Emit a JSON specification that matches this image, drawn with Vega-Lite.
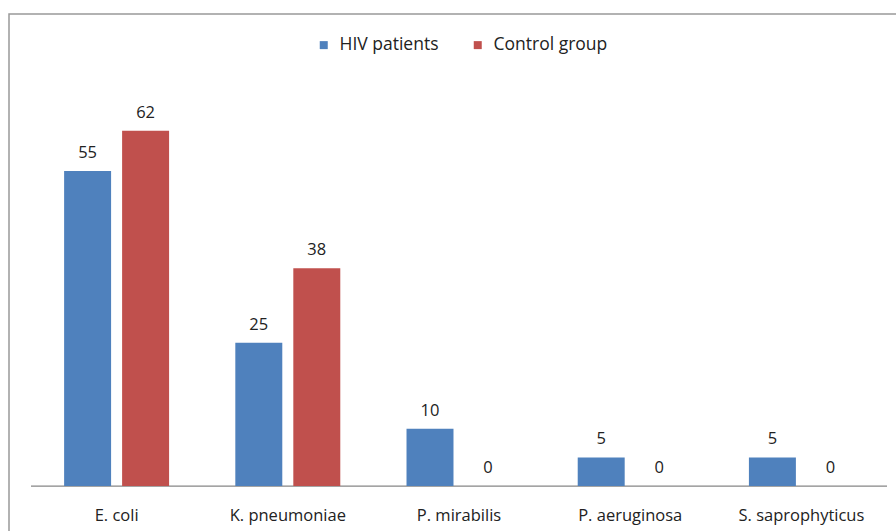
{
  "$schema": "https://vega.github.io/schema/vega-lite/v6.json",
  "autosize": "none",
  "width": 900,
  "height": 526,
  "padding": {"left": 9, "top": 14, "right": -13, "bottom": -9},
  "background": "white",
  "config": {
    "view": {"stroke": "#999999", "strokeWidth": 1.5},
    "font": "Open Sans",
    "text": {"font": "Open Sans"}
  },
  "layer": [
    {
      "data": {"values": [{"a": "E. coli", "b": "S. saprophyticus"}]},
      "mark": {"type": "rule", "color": "#868686", "strokeWidth": 1.2},
      "encoding": {
        "x": {"field": "a", "type": "nominal", "bandPosition": 0},
        "x2": {"field": "b", "bandPosition": 1},
        "y": {"datum": 0, "type": "quantitative"}
      }
    },
    {
      "data": {"name": "main", "values": [
        {"org": "E. coli", "group": "HIV patients", "v": 55},
        {"org": "E. coli", "group": "Control group", "v": 62},
        {"org": "K. pneumoniae", "group": "HIV patients", "v": 25},
        {"org": "K. pneumoniae", "group": "Control group", "v": 38},
        {"org": "P. mirabilis", "group": "HIV patients", "v": 10},
        {"org": "P. mirabilis", "group": "Control group", "v": 0},
        {"org": "P. aeruginosa", "group": "HIV patients", "v": 5},
        {"org": "P. aeruginosa", "group": "Control group", "v": 0},
        {"org": "S. saprophyticus", "group": "HIV patients", "v": 5},
        {"org": "S. saprophyticus", "group": "Control group", "v": 0}
      ]},
      "layer": [
        {
          "mark": {"type": "bar"},
          "encoding": {
            "color": {
              "field": "group", "type": "nominal",
              "scale": {"domain": ["HIV patients", "Control group"], "range": ["#4F81BD", "#C0504D"]},
              "legend": {
                "title": null, "orient": "none", "direction": "horizontal",
                "legendX": 306, "legendY": 22,
                "symbolType": "square", "symbolSize": 64, "symbolStrokeWidth": 0,
                "labelFont": "Open Sans", "labelFontSize": 17.5, "labelColor": "#222222",
                "labelOffset": 7, "columnPadding": 30
              }
            }
          }
        },
        {
          "mark": {"type": "text", "baseline": "alphabetic", "dy": -13, "fontSize": 16.5, "color": "#222222", "font": "Open Sans"},
          "encoding": {"text": {"field": "v", "type": "quantitative"}}
        }
      ],
      "encoding": {
        "x": {"field": "org", "type": "nominal"},
        "xOffset": {"field": "group", "type": "nominal", "sort": ["HIV patients", "Control group"],
          "scale": {"paddingInner": 0.19, "paddingOuter": 0.571}},
        "y": {"field": "v", "type": "quantitative"}
      }
    }
  ],
  "encoding": {
    "x": {
      "field": "org", "type": "nominal",
      "scale": {"domain": ["E. coli", "K. pneumoniae", "P. mirabilis", "P. aeruginosa", "S. saprophyticus"], "paddingInner": 0, "paddingOuter": 0.1285},
      "axis": {"title": null, "domain": false, "ticks": false, "labelAngle": 0, "offset": -54, "labelBaseline": "alphabetic", "labelPadding": 34, "labelFont": "Open Sans", "labelFontSize": 16.5, "labelColor": "#222222"}
    },
    "y": {
      "type": "quantitative",
      "scale": {"domain": [-9.42, 82.4], "nice": false, "zero": false},
      "axis": null
    }
  }
}
